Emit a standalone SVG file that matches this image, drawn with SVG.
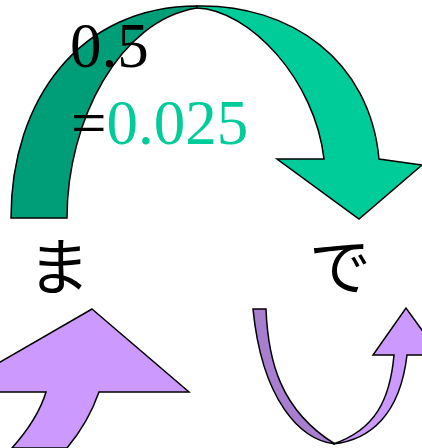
<svg xmlns="http://www.w3.org/2000/svg" width="422" height="448" viewBox="0 0 422 448">
<style>
.s{stroke:#000;stroke-width:1.5;stroke-linejoin:miter}
.dg{fill:#009E78}
.lg{fill:#00CC99}
.dp{fill:#A87FD0}
.lp{fill:#CC99FF}
.num{font-family:"Liberation Serif","Times New Roman",serif;font-size:63px}
.jp{font-family:"Noto Sans CJK JP","Noto Sans",sans-serif;font-size:62px;text-anchor:middle}
</style>
<rect width="422" height="448" fill="#fff"/>
<g id="arrow-top">
<path class="s dg" d="M11,218 C11,100 80,6 197,6 L197,8 C120,20 67,120 67,218 Z"/>
<path class="s lg" d="M197,6 C290,4 370,60 379,159 L422,165 L359,219 L277,159 L324,159 C315,80 250,10 197,8 Z"/>
</g>
<g id="label-05">
<text class="num" x="70" y="67">0.5</text>
</g>
<g id="label-0025">
<text class="num" x="71" y="144">=<tspan fill="#00CC99">0.025</tspan></text>
</g>
<g id="label-ma">
<text class="jp" x="59" y="290">ま</text>
</g>
<g id="label-de">
<text class="jp" x="340" y="290">で</text>
</g>
<g id="arrow-left">
<path class="s lp" d="M92,309 L189,392 L99,392 C92,412 82,430 67,448 L12,448 C28,430 40,412 46,392 L-10,392 L-10,368 Z"/>
</g>
<g id="arrow-right">
<path class="s dp" d="M253,309 L266,309 C268,360 280,410 335,444 C300,440 262,400 253,309 Z"/>
<path class="s lp" d="M333,444 C375,430 390,400 394,355 L373,355 L406,308 L440,355 L407,355 C400,415 370,440 333,444 Z"/>
</g>
</svg>
